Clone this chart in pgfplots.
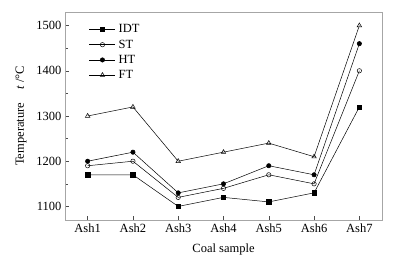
\documentclass[border=0pt]{standalone}
\usepackage{pgfplots}
\pgfplotsset{compat=1.18}
\usepackage{fontspec}
\setmainfont{Liberation Serif}
\begin{document}
\begin{tikzpicture}
\begin{axis}[
  name=ax,
  scale only axis,
  width=317pt, height=208pt,
  xmin=0.5, xmax=7.5,
  ymin=1070, ymax=1530,
  xtick={1,2,3,4,5,6,7},
  xticklabels={Ash1,Ash2,Ash3,Ash4,Ash5,Ash6,Ash7},
  ytick={1100,1200,1300,1400,1500},
  minor ytick={1150,1250,1350,1450},
  tick align=inside,
  xtick pos=bottom, ytick pos=left,
  axis line style={gray!70},
  major tick length=4pt, minor tick length=2.5pt,
  tick style={black!70, line width=0.5pt},
  /pgf/number format/assume math mode=true,
  /pgf/number format/1000 sep={},
  tick label style={font=\fontsize{12.5}{14}\selectfont},
  label style={font=\fontsize{12.5}{14}\selectfont},
  xlabel={Coal sample},
  ylabel={Temperature\hspace{13pt}\textit{t} /°C},
  xlabel style={at={(rel axis cs:0.5,0)}, anchor=center, yshift=-29pt},
  ylabel style={at={(rel axis cs:0,0.5)}, anchor=center, yshift=44pt},
  legend style={draw=none, fill=none, at={(rel axis cs:0.0757,0.945)}, anchor=north west,
    inner sep=0pt, font=\fontsize{12.5}{14}\selectfont, row sep=3.5pt,
    nodes={inner xsep=3pt, inner ysep=1pt}},
  legend cell align=left,
  legend image code/.code={\draw[mark repeat=2,mark phase=2] plot coordinates {(0pt,0pt) (13pt,0pt) (26pt,0pt)};},
]
\addplot[black, line width=0.5pt, mark size=2.2pt, mark=square*, mark options={fill=black, solid}] coordinates {(1,1170)(2,1170)(3,1100)(4,1120)(5,1110)(6,1130)(7,1320)};
\addlegendentry{IDT}
\addplot[black, line width=0.5pt, mark size=2.2pt, mark=o, mark options={fill=white, solid}] coordinates {(1,1190)(2,1200)(3,1120)(4,1140)(5,1170)(6,1150)(7,1400)};
\addlegendentry{ST}
\addplot[black, line width=0.5pt, mark size=2.2pt, mark=*, mark options={fill=black, solid}] coordinates {(1,1200)(2,1220)(3,1130)(4,1150)(5,1190)(6,1170)(7,1460)};
\addlegendentry{HT}
\addplot[black, line width=0.5pt, mark size=2.6pt, mark=triangle, mark options={fill=white, solid}] coordinates {(1,1300)(2,1320)(3,1200)(4,1220)(5,1240)(6,1210)(7,1500)};
\addlegendentry{FT}
\end{axis}
\pgfresetboundingbox
\path ([xshift=-65pt,yshift=-44pt]ax.south west) rectangle ([xshift=18pt,yshift=12pt]ax.north east);
\end{tikzpicture}
\end{document}
